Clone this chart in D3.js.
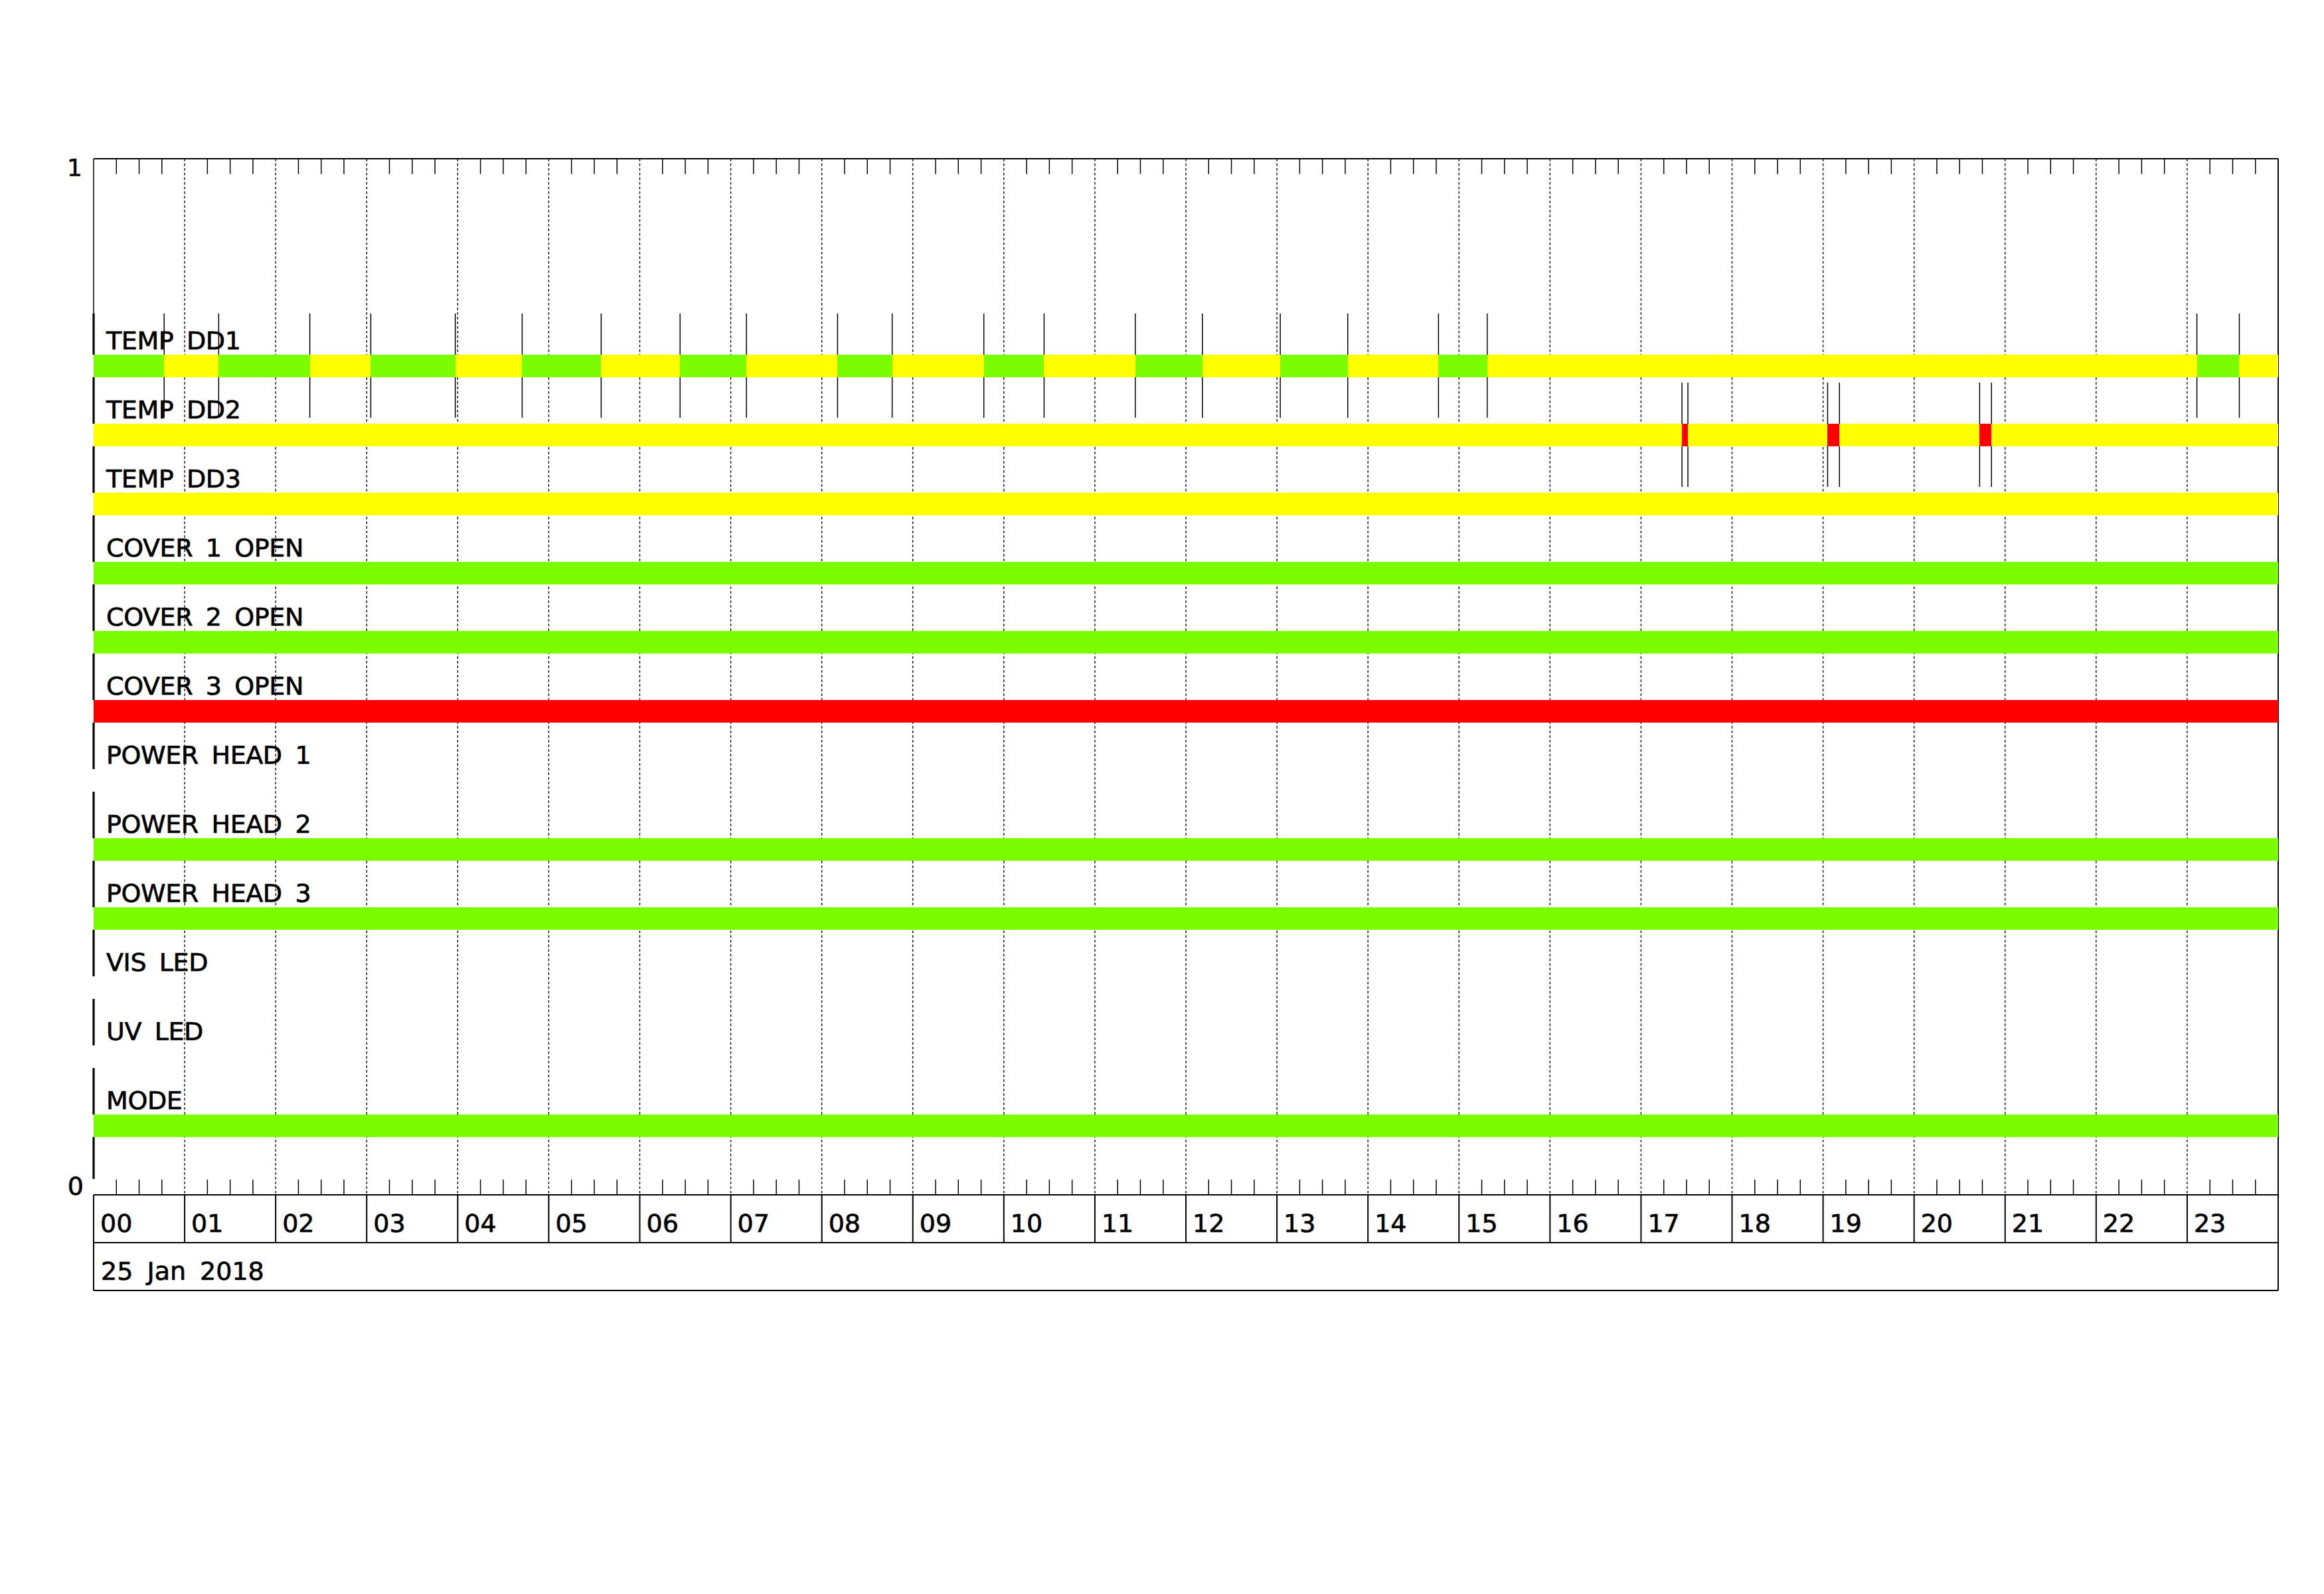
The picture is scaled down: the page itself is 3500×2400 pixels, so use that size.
<!DOCTYPE html>
<html>
<head>
<meta charset="utf-8">
<script src="https://cdn.jsdelivr.net/npm/d3@7"></script>
<style>
  html, body { margin: 0; padding: 0; background: #fff; }
  svg text { font-family: "DejaVu Sans", sans-serif; fill: #000; stroke: #000; stroke-width: 0.7px; }
</style>
</head>
<body>
<svg id="chart" width="3500" height="2400"></svg>
<script>
// ---------------- DATA ----------------
const rowLabels = ["TEMP DD1", "TEMP DD2", "TEMP DD3", "COVER 1 OPEN", "COVER 2 OPEN",
  "COVER 3 OPEN", "POWER HEAD 1", "POWER HEAD 2", "POWER HEAD 3", "VIS LED", "UV LED", "MODE"];

// state change times (hours) and states per row
const dd1Times  = [0, 0.775, 1.374, 2.375, 3.045, 3.973, 4.708, 5.576, 6.443, 7.172, 8.173, 8.773,
                   9.780, 10.442, 11.444, 12.181, 13.037, 13.778, 14.775, 15.310, 23.107, 23.573, 24];
const dd1States = ["ok","warn","ok","warn","ok","warn","ok","warn","ok","warn","ok",
                   "warn","ok","warn","ok","warn","ok","warn","ok","warn","ok","warn"];
const dd2Times  = [0, 17.45, 17.515, 19.05, 19.18, 20.72, 20.85, 24];
const dd2States = ["warn","alarm","warn","alarm","warn","alarm","warn"];
const dd3Times  = [0, 24];
const dd3States = ["warn"];
const cover1Times = [0, 24], cover1States = ["ok"];
const cover2Times = [0, 24], cover2States = ["ok"];
const cover3Times = [0, 24], cover3States = ["alarm"];
const head1Times = [], head1States = [];
const head2Times = [0, 24], head2States = ["ok"];
const head3Times = [0, 24], head3States = ["ok"];
const visTimes = [], visStates = [];
const uvTimes = [], uvStates = [];
const modeTimes = [0, 24], modeStates = ["ok"];

const hourLabels = ["00","01","02","03","04","05","06","07","08","09","10","11",
                    "12","13","14","15","16","17","18","19","20","21","22","23"];
const dateLabel = "25 Jan 2018";
const yTickLabels = ["0", "1"];

const stateNames = ["ok", "warn", "alarm"];
const stateColors = ["#7CFC00", "#FFFF00", "#FF0000"];

// ---------------- LAYOUT ----------------
const rowsTimes  = [dd1Times, dd2Times, dd3Times, cover1Times, cover2Times, cover3Times,
                    head1Times, head2Times, head3Times, visTimes, uvTimes, modeTimes];
const rowsStates = [dd1States, dd2States, dd3States, cover1States, cover2States, cover3States,
                    head1States, head2States, head3States, visStates, uvStates, modeStates];

const L = 141, R = 3431, T = 239, B = 1799;
const labelRowB = 1871, dateRowB = 1943;
const x = d3.scaleLinear().domain([0, 24]).range([L, R]);
const y = d3.scaleLinear().domain([0, 1]).range([B, T]);
const color = d3.scaleOrdinal().domain(stateNames).range(stateColors);
const nSlots = 15;
const rowCenter = i => y((rowLabels.length - i) / nSlots);
const barH = 34;

const svg = d3.select("#chart");
svg.append("rect").attr("width", 3500).attr("height", 2400).attr("fill", "#fff");

// hour gridlines (dashed)
const hours = d3.range(1, 24);
svg.append("g").selectAll("line").data(hours).join("line")
  .attr("x1", d => x(d)).attr("x2", d => x(d))
  .attr("y1", T).attr("y2", B)
  .attr("stroke", "#000").attr("stroke-width", 1.3).attr("stroke-dasharray", "4,3");

// minor ticks every 15 min
const minor = d3.range(0, 96).map(d => d / 4).filter(d => d % 1 !== 0);
const tickG = svg.append("g");
tickG.selectAll("line.top").data(minor).join("line").attr("class", "top")
  .attr("x1", d => x(d)).attr("x2", d => x(d)).attr("y1", T).attr("y2", T + 23)
  .attr("stroke", "#000").attr("stroke-width", 1.5);
tickG.selectAll("line.bot").data(minor).join("line").attr("class", "bot")
  .attr("x1", d => x(d)).attr("x2", d => x(d)).attr("y1", B - 23).attr("y2", B)
  .attr("stroke", "#000").attr("stroke-width", 1.5);

// frame
const frame = svg.append("g").attr("stroke", "#000").attr("fill", "none");
frame.append("line").attr("x1", L).attr("x2", R).attr("y1", T).attr("y2", T).attr("stroke-width", 2);
frame.append("line").attr("x1", R).attr("x2", R).attr("y1", T).attr("y2", dateRowB).attr("stroke-width", 2);
frame.append("line").attr("x1", L).attr("x2", R).attr("y1", B).attr("y2", B).attr("stroke-width", 2);
frame.append("line").attr("x1", L).attr("x2", R).attr("y1", labelRowB).attr("y2", labelRowB).attr("stroke-width", 2);
frame.append("line").attr("x1", L).attr("x2", R).attr("y1", dateRowB).attr("y2", dateRowB).attr("stroke-width", 2);
frame.append("line").attr("x1", L).attr("x2", L).attr("y1", B).attr("y2", dateRowB).attr("stroke-width", 2);
frame.append("line").attr("x1", L).attr("x2", L).attr("y1", T).attr("y2", rowCenter(0) - 79).attr("stroke-width", 1.5);
// hour separators in label row
frame.selectAll("line.sep").data(hours).join("line").attr("class", "sep")
  .attr("x1", d => x(d)).attr("x2", d => x(d)).attr("y1", B).attr("y2", labelRowB).attr("stroke-width", 2);

// thick left segments per row (plus one below the last row)
const segRows = d3.range(0, rowLabels.length + 1);
svg.append("g").selectAll("line").data(segRows).join("line")
  .attr("x1", L).attr("x2", L)
  .attr("y1", i => i === 0 ? rowCenter(0) - 79 : rowCenter(i) - barH / 2 - 70)
  .attr("y2", i => i === rowLabels.length ? B - 24 : rowCenter(i) - barH / 2)
  .attr("stroke", "#000").attr("stroke-width", 3.2);

// transition markers
const markers = [];
rowsTimes.forEach((times, i) => {
  times.forEach(t => { if (t > 0 && t < 24) markers.push({ t, i }); });
});
svg.append("g").selectAll("line").data(markers).join("line")
  .attr("x1", d => x(d.t)).attr("x2", d => x(d.t))
  .attr("y1", d => rowCenter(d.i) - 79).attr("y2", d => rowCenter(d.i) + 78)
  .attr("stroke", "#000").attr("stroke-width", 1.5);

// bars
const segs = [];
rowsTimes.forEach((times, i) => {
  rowsStates[i].forEach((s, k) => segs.push({ i, s, t0: times[k], t1: times[k + 1] }));
});
svg.append("g").selectAll("rect").data(segs).join("rect")
  .attr("x", d => x(d.t0)).attr("width", d => x(d.t1) - x(d.t0))
  .attr("y", d => rowCenter(d.i) - barH / 2).attr("height", barH)
  .attr("fill", d => color(d.s)).attr("shape-rendering", "crispEdges");

// row labels
svg.append("g").selectAll("text").data(rowLabels).join("text")
  .attr("x", 160).attr("y", (d, i) => rowCenter(i) - barH / 2 - 8)
  .attr("font-size", 38).attr("word-spacing", 8).attr("letter-spacing", -0.4).text(d => d);

// hour labels
svg.append("g").selectAll("text").data(hourLabels).join("text")
  .attr("x", (d, i) => x(i) + 10).attr("y", 1855)
  .attr("font-size", 38).text(d => d);

// date label
svg.append("text").attr("x", 152).attr("y", 1927).attr("font-size", 38)
  .attr("word-spacing", 9).text(dateLabel);

// y tick labels
svg.append("text").attr("x", 124).attr("y", y(1) + 26).attr("text-anchor", "end")
  .attr("font-size", 36).text(yTickLabels[1]);
svg.append("text").attr("x", 126).attr("y", y(0)).attr("text-anchor", "end")
  .attr("font-size", 38).text(yTickLabels[0]);
</script>
</body>
</html>
